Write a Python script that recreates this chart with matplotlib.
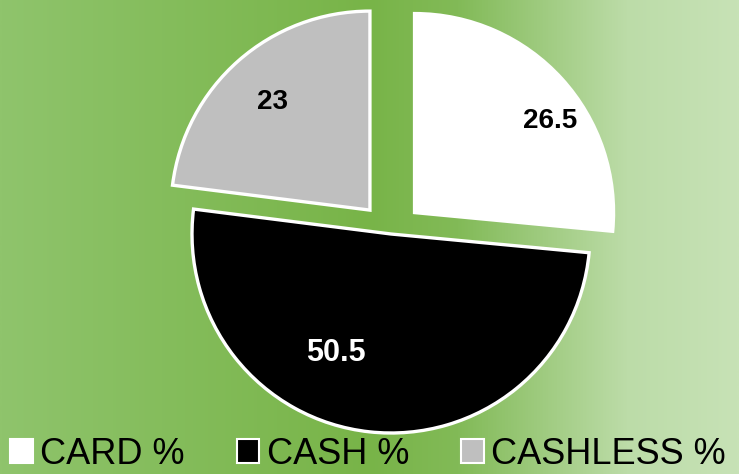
import numpy as np
import matplotlib
matplotlib.use('Agg')
import matplotlib.pyplot as plt
from matplotlib.colors import LinearSegmentedColormap

labels = ['CARD %', 'CASH %', 'CASHLESS %']
values = [26.5, 50.5, 23]
colors = ['#FFFFFF', '#000000', '#BFBFBF']
text_colors = ['black', 'white', 'black']
explode = [0.16, 0, 0.16]

plt.rcParams['font.family'] = ['Liberation Sans', 'DejaVu Sans']

fig = plt.figure(figsize=(7.39, 4.74), dpi=100)
ax = fig.add_axes([0, 0, 1, 1])

# green background gradient
bg = LinearSegmentedColormap.from_list('bg', [
    (0.0, '#8FC46C'), (0.5, '#78B448'), (0.62, '#82BA57'),
    (0.85, '#BCDCA8'), (1.0, '#C7E2B6')])
grad = np.linspace(0, 1, 512).reshape(1, -1)

wedges, texts, autotexts = ax.pie(
    values, colors=colors, explode=explode, startangle=90, counterclock=False,
    autopct=lambda p: f'{p:g}', pctdistance=0.75,
    wedgeprops=dict(edgecolor='white', linewidth=2.4))

# label placement inside each slice (distance, angle in degrees)
label_pos = [(0.82, 34), (0.66, -115), (0.73, 132)]
label_size = [20, 22, 20]
for w, t, tc, (d, a), s in zip(wedges, autotexts, text_colors, label_pos, label_size):
    cx, cy = w.center
    t.set_position((cx + d * np.cos(np.radians(a)), cy + d * np.sin(np.radians(a))))
    t.set_color(tc)
    t.set_fontsize(s)
    t.set_fontweight('bold')

xmin, xmax = -391 / 199, (739 - 391) / 199
ymin, ymax = -(474 - 234) / 199, 234 / 199
ax.imshow(grad, cmap=bg, aspect='auto', extent=(xmin, xmax, ymin, ymax), zorder=0)
ax.set_xlim(xmin, xmax)
ax.set_ylim(ymin, ymax)
ax.set_aspect('auto')
ax.axis('off')

handles = [plt.Rectangle((0, 0), 1, 1, facecolor=c, edgecolor='white', linewidth=1.5)
           for c in colors]
fig.legend(handles, labels, loc='lower center', bbox_to_anchor=(368 / 739, 0.005),
           ncol=3, frameon=False, fontsize=26, handlelength=0.62, handleheight=0.62,
           handletextpad=0.2, columnspacing=1.45, borderpad=0, borderaxespad=0)

fig.savefig('out.png', dpi=100)
